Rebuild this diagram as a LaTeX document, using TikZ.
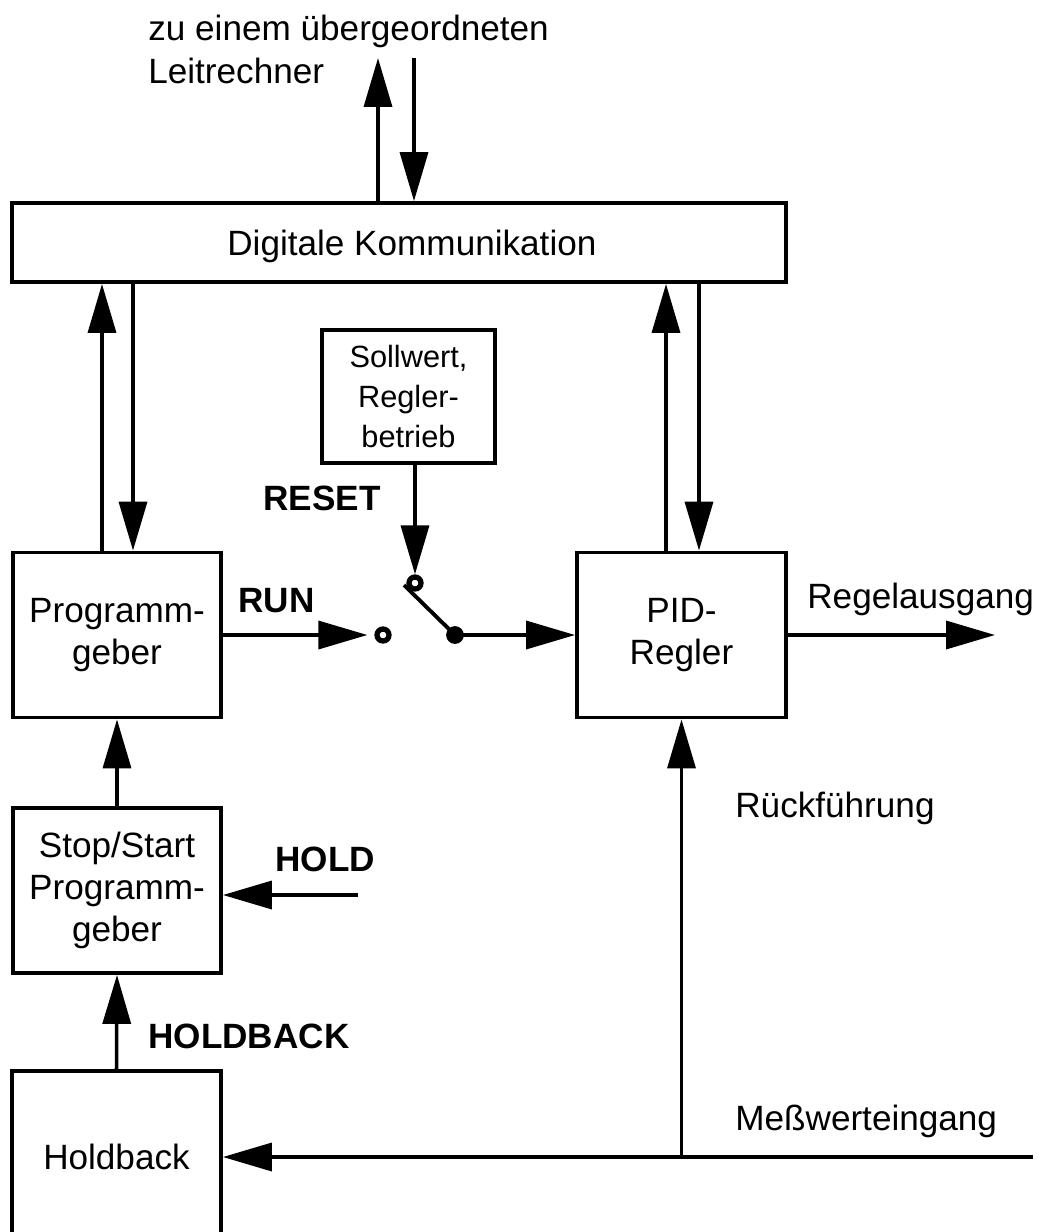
\documentclass[tikz,border=0pt]{standalone}
\usepackage{fontspec}
\setmainfont{Liberation Sans}
\usepackage{tikz}
\usetikzlibrary{arrows.meta, positioning}
\tikzset{
  block/.style={draw, line width=2.2pt, inner sep=0pt, align=center,
                font=\fontsize{20}{24}\selectfont},
  txt/.style={inner sep=0pt, anchor=base west, font=\fontsize{20}{24}\selectfont},
  flag/.style={txt, font=\fontsize{20}{24}\selectfont\bfseries},
  arrow/.style={-{Triangle[length=0.98cm,width=0.56cm]}, line width=2pt},
  contact/.style={circle, draw, line width=3pt, minimum size=0.24cm, inner sep=0pt},
  pivot/.style={circle, draw, fill, line width=1pt, minimum size=0.32cm, inner sep=0pt},
}

\begin{document}
\begin{tikzpicture}[x=0.02cm, y=-0.02cm]
\useasboundingbox (0,0) rectangle (1041,1232);
\clip (0,0) rectangle (1041,1232);

% blocks
\node[block, minimum width=15.48cm, minimum height=1.58cm] (dig) at (399,242.5) {};
\node[txt] (digTag) at (227,255) {Digitale Kommunikation};
\node[block, minimum width=3.46cm, minimum height=2.66cm, font=\fontsize{17.5}{22.5}\selectfont] (soll) at (408.5,396.5) {Sollwert,\\Regler-\\betrieb};
\node[block, minimum width=4.16cm, minimum height=3.3cm] (prog) at (117,635) {Programm-\\geber};
\node[block, minimum width=4.18cm, minimum height=3.3cm] (pid) at (681.5,635) {PID-\\Regler};
\node[block, minimum width=4.16cm, minimum height=3.3cm] (stst) at (117,890.5) {Stop/Start\\Programm-\\geber};
\node[block, minimum width=4.18cm, minimum height=3.44cm] (hold) at (116.5,1157) {Holdback};

% switch
\node[contact] (cTop) at (415,583) {};
\node[contact] (cRun) at (383,635) {};
\node[pivot] (piv) at (455,635) {};
\coordinate (levEnd) at (404,585);
\draw[line width=2.2pt] (piv.center) -- (levEnd);

% host link
\coordinate (hostUp) at (378,58);
\coordinate (hostDn) at (414,58);
\draw[arrow] (hostUp |- dig.north) -- (hostUp);
\draw[arrow] (hostDn) -- (hostDn |- dig.north);

% links to the communication block
\coordinate (progUp) at ([xshift=-0.3cm]prog.north);
\coordinate (progDn) at ([xshift=0.32cm]prog.north);
\coordinate (pidUp) at ([xshift=-0.31cm]pid.north);
\coordinate (pidDn) at ([xshift=0.35cm]pid.north);
\draw[arrow] (progUp) -- (progUp |- dig.south);
\draw[arrow] (progDn |- dig.south) -- (progDn);
\draw[arrow] (pidUp) -- (pidUp |- dig.south);
\draw[arrow] (pidDn |- dig.south) -- (pidDn);

\draw[arrow] (soll.south -| cTop) -- (cTop.north);
\draw[arrow, shorten >=0.14cm] (prog.east) -- (cRun.west);
\draw[arrow] (piv.center) -- (pid.west);

\coordinate (ctrlOut) at (995,635);
\draw[arrow] (pid.east) -- (ctrlOut);

% measurement and feedback
\coordinate (measIn) at (1033,1157);
\draw[arrow] (measIn) -- (hold.east);
\draw[arrow] (pid.south |- measIn) -- (pid.south);

\draw[arrow] (stst.north) -- (prog.south);
\draw[arrow] (hold.north) -- (stst.south);
\coordinate (holdIn) at (358,895);
\draw[arrow] (holdIn) -- (holdIn -| stst.east);

% labels
\node[txt] (hostA) at (148,40) {zu einem übergeordneten};
\node[txt] (hostB) at (148,83) {Leitrechner};
\node[flag] (resetTag) at (263,510) {RESET};
\node[flag] (runTag) at (238,612) {RUN};
\node[flag] (holdTag) at (275,871) {HOLD};
\node[flag] (holdbackTag) at (148,1048) {HOLDBACK};
\node[txt] (outTag) at (807,608) {Regelausgang};
\node[txt] (fbTag) at (735,817) {Rückführung};
\node[txt] (measTag) at (735,1130) {Meßwerteingang};
\end{tikzpicture}
\end{document}
